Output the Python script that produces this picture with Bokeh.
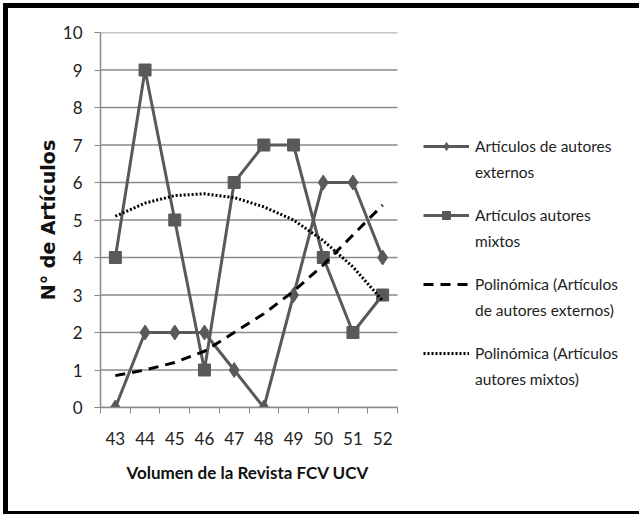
from bokeh.plotting import figure
from bokeh.models import Range1d, FixedTicker, Legend, LegendItem, Title
from bokeh.embed import file_html
from bokeh.resources import INLINE

volumes = [43, 44, 45, 46, 47, 48, 49, 50, 51, 52]
externos = [0, 2, 2, 2, 1, 0, 3, 6, 6, 4]
mixtos = [4, 9, 5, 1, 6, 7, 7, 4, 2, 3]
trend_externos = [0.85, 1.0, 1.2, 1.5, 2.0, 2.5, 3.1, 3.8, 4.6, 5.4]
trend_mixtos = [5.1, 5.45, 5.65, 5.7, 5.6, 5.35, 5.0, 4.45, 3.75, 2.85]
y_ticks = list(range(0, 11))
legend_line1 = ["Artículos de autores", "Artículos autores", "Polinómica (Artículos", "Polinómica (Artículos"]
legend_line2 = ["externos", "mixtos", "de autores externos)", "autores mixtos)"]

GRAY = "#595959"
GRID = "#8a8a8a"
FONT = "Lato"

# layout (pixels)
BL, BT, BB = 5, 5, 3
W, H = 631, 503
CW, CH = W + BL, H + BT + BB   # canvas size as laid out by Bokeh (border box)
MB_L, MB_R, MB_T, MB_B = 92, 14, 24, 112
frame_w = CW - MB_L - MB_R
data_w = 297.0
x0, x1 = volumes[0] - 0.5, volumes[-1] + 0.5
x_end = x0 + (x1 - x0) * frame_w / data_w

p = figure(width=W, height=H, output_backend="svg", toolbar_location=None,
           x_range=Range1d(x0, x_end), y_range=Range1d(0, 10),
           min_border_left=MB_L, min_border_right=MB_R, min_border_top=MB_T, min_border_bottom=MB_B)
p.styles = {"box-sizing": "content-box",
            "border-left": f"{BL}px solid black", "border-top": f"{BT}px solid black",
            "border-bottom": f"{BB}px solid black",
            "margin-left": "3px", "margin-top": "3px"}
p.outline_line_color = None
p.background_fill_color = "white"
p.border_fill_color = "white"

p.xgrid.grid_line_color = None
p.ygrid.grid_line_color = None
p.segment(x0=x0, x1=x1, y0=y_ticks, y1=y_ticks, line_color=GRID, line_width=1.5)

p.xaxis.bounds = (x0, x1)
p.xaxis.ticker = FixedTicker(ticks=volumes, minor_ticks=[v - 0.5 for v in volumes] + [x1])
p.xaxis.major_tick_out = 0
p.xaxis.major_tick_in = 0
p.xaxis.minor_tick_out = 6
p.xaxis.minor_tick_in = 0
p.xaxis.minor_tick_line_color = GRID
p.xaxis.axis_line_color = GRID
p.xaxis.axis_line_width = 1.5
p.xaxis.major_label_standoff = 18
p.xaxis.major_label_text_font = FONT
p.xaxis.major_label_text_font_size = "17px"
p.xaxis.major_label_text_color = "#222222"

xtitle = Title(text="Volumen de la Revista FCV UCV", align="left", offset=26, standoff=24,
               text_font=FONT, text_font_size="17px", text_font_style="bold", text_color="#111111")
p.add_layout(xtitle, "below")

p.yaxis.ticker = FixedTicker(ticks=y_ticks)
p.yaxis.minor_tick_line_color = None
p.yaxis.major_tick_out = 6
p.yaxis.major_tick_in = 0
p.yaxis.major_tick_line_color = GRID
p.yaxis.axis_line_color = GRID
p.yaxis.axis_line_width = 1.5
p.yaxis.major_label_standoff = 12
p.yaxis.major_label_text_font = FONT
p.yaxis.major_label_text_font_size = "17px"
p.yaxis.major_label_text_color = "#222222"
p.yaxis.axis_label = "N° de Artículos"
p.yaxis.axis_label_text_font = "DejaVu Sans"
p.yaxis.axis_label_text_font_size = "19px"
p.yaxis.axis_label_text_font_style = "bold"
p.yaxis.axis_label_text_color = "#111111"
p.yaxis.axis_label_standoff = 1

l1 = p.line(volumes, externos, line_color=GRAY, line_width=3)
m1 = p.scatter(volumes, externos, marker="diamond", size=15, fill_color=GRAY, line_color=GRAY)
l2 = p.line(volumes, mixtos, line_color=GRAY, line_width=3)
m2 = p.scatter(volumes, mixtos, marker="square", size=12, fill_color=GRAY, line_color=GRAY)
t1 = p.line(volumes, trend_externos, line_color="black", line_width=3, line_dash="10 7")
t2 = p.line(volumes, trend_mixtos, line_color="black", line_width=3, line_dash="2 2")

renderer_sets = [[l1, m1], [l2, m2], [t1], [t2]]


def style_legend(lg):
    lg.border_line_color = None
    lg.background_fill_alpha = 0
    lg.margin = 0
    lg.padding = 0
    lg.spacing = 49
    lg.glyph_width = 46
    lg.glyph_height = 20
    lg.label_height = 20
    lg.label_standoff = 6
    lg.label_text_font = FONT
    lg.label_text_font_size = "15.5px"
    lg.label_text_color = "#222222"
    lg.label_text_baseline = "middle"


legend1 = Legend(items=[LegendItem(label=t, renderers=r) for t, r in zip(legend_line1, renderer_sets)],
                 location=(323, 44), orientation="vertical")
legend2 = Legend(items=[LegendItem(label=t, renderers=[]) for t in legend_line2],
                 location=(323, 18), orientation="vertical")
style_legend(legend1)
style_legend(legend2)
p.add_layout(legend1, "center")
p.add_layout(legend2, "center")

open("out.html", "w").write(file_html(p, INLINE))
